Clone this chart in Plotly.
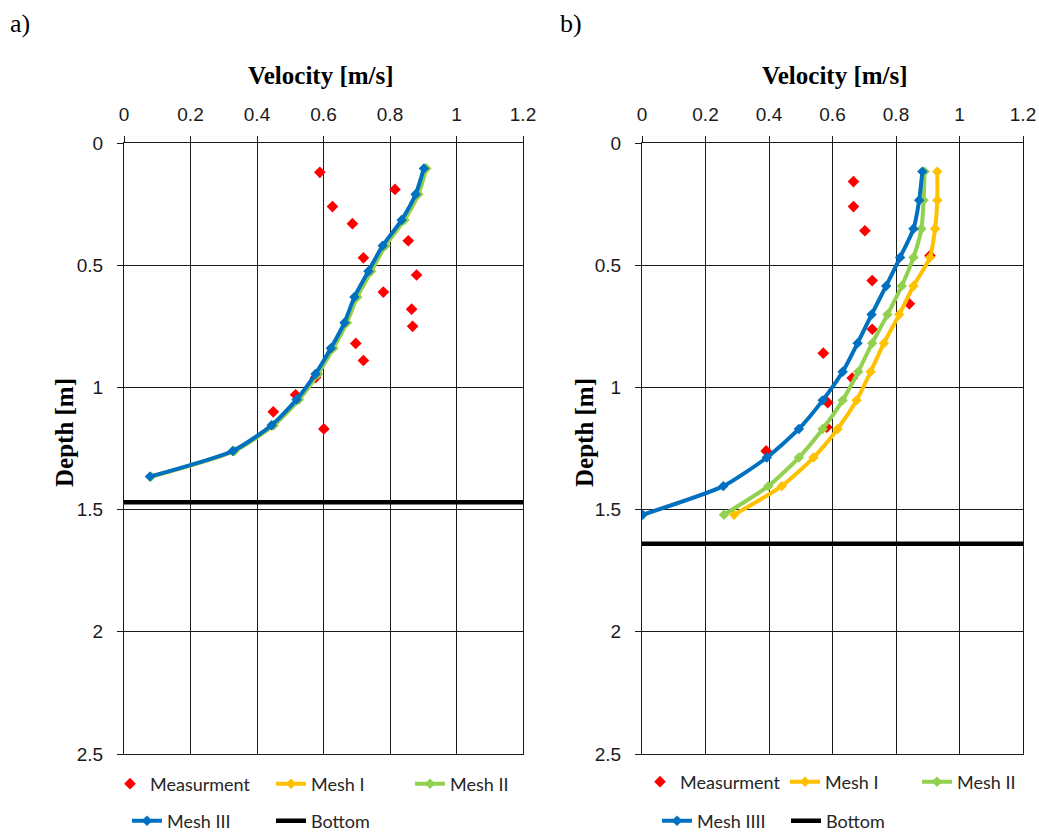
import plotly.graph_objects as go

W, H = 1039, 833

# ---------------- data: panel a ----------------
meas_a_v = [0.589, 0.815, 0.627, 0.687, 0.855, 0.72, 0.88, 0.78, 0.865, 0.868,
            0.697, 0.72, 0.576, 0.516, 0.449, 0.601]
meas_a_d = [0.12, 0.19, 0.26, 0.33, 0.40, 0.47, 0.54, 0.61, 0.68, 0.75,
            0.82, 0.89, 0.96, 1.03, 1.10, 1.17]
mesh_a_d = [0.104, 0.21, 0.315, 0.42, 0.525, 0.63, 0.735, 0.84, 0.945, 1.05,
            1.155, 1.26, 1.365]
mesh1_a_v = [0.909, 0.885, 0.843, 0.786, 0.743, 0.701, 0.670, 0.629, 0.583,
             0.526, 0.450, 0.332, 0.081]
mesh2_a_v = [0.909, 0.885, 0.843, 0.786, 0.743, 0.701, 0.670, 0.629, 0.583,
             0.526, 0.450, 0.332, 0.081]
mesh3_a_v = [0.902, 0.877, 0.835, 0.778, 0.735, 0.693, 0.663, 0.622, 0.576,
             0.519, 0.444, 0.327, 0.078]
bottom_a = 1.47

# ---------------- data: panel b ----------------
meas_b_v = [0.666, 0.666, 0.702, 0.907, 0.725, 0.842, 0.725, 0.571, 0.662,
            0.585, 0.582, 0.391]
meas_b_d = [0.158, 0.26, 0.359, 0.461, 0.563, 0.658, 0.762, 0.86, 0.962,
            1.062, 1.163, 1.26]
mesh_b_d = [0.117, 0.234, 0.351, 0.468, 0.585, 0.702, 0.819, 0.936, 1.053,
            1.17, 1.287, 1.404, 1.521]
mesh1_b_v = [0.93, 0.93, 0.923, 0.907, 0.855, 0.81, 0.762, 0.72, 0.676, 0.616,
             0.54, 0.44, 0.29]
mesh2_b_v = [0.89, 0.887, 0.88, 0.855, 0.818, 0.773, 0.725, 0.681, 0.632,
             0.569, 0.494, 0.398, 0.258]
mesh3_b_v = [0.883, 0.873, 0.855, 0.813, 0.769, 0.723, 0.679, 0.632, 0.569,
             0.494, 0.393, 0.256, 0.002]
bottom_b = 1.64

vel_range = [0, 1.2]
depth_ticks = [0, 0.5, 1, 1.5, 2, 2.5]
vel_ticks = [0, 0.2, 0.4, 0.6, 0.8, 1, 1.2]

RED, YEL, GRN, BLU = "#FF0000", "#FFC000", "#92D050", "#0070C0"

fig = go.Figure()


def add_panel(xa, ya, mv, md, dd, m1, m2, m3, bot, legs, names, widths):
    l1, l2 = legs
    fig.add_trace(go.Scatter(x=mv, y=md, mode="markers", name=names[0],
                             marker=dict(symbol="diamond", size=9, color=RED),
                             xaxis=xa, yaxis=ya, legend=l1, legendwidth=widths[0]))
    for vals, col, nm, lg, w in [(m1, YEL, names[1], l1, widths[1]),
                                 (m2, GRN, names[2], l1, widths[2]),
                                 (m3, BLU, names[3], l2, widths[3])]:
        fig.add_trace(go.Scatter(x=vals, y=dd, mode="lines+markers", name=nm,
                                 line=dict(color=col, width=4, shape="spline", smoothing=0.6),
                                 marker=dict(symbol="diamond", size=8, color=col),
                                 xaxis=xa, yaxis=ya, legend=lg, legendwidth=w))
    fig.add_trace(go.Scatter(x=vel_range, y=[bot, bot], mode="lines", name=names[4],
                             line=dict(color="black", width=4.5),
                             xaxis=xa, yaxis=ya, legend=l2, legendwidth=widths[4]))


add_panel("x", "y", meas_a_v, meas_a_d, mesh_a_d, mesh1_a_v, mesh2_a_v, mesh3_a_v,
          bottom_a, ("legend", "legend2"),
          ["Measurment", "Mesh I", "Mesh II", "Mesh III", "Bottom"],
          [116, 94, 60, 99, 60])
add_panel("x2", "y2", meas_b_v, meas_b_d, mesh_b_d, mesh1_b_v, mesh2_b_v, mesh3_b_v,
          bottom_b, ("legend3", "legend4"),
          ["Measurment", "Mesh I", "Mesh II", "Mesh IIII", "Bottom"],
          [100, 87, 60, 84, 60])

tickfont = dict(family="Liberation Sans, Arial", size=19, color="#1a1a1a")
xcommon = dict(range=vel_range, tickvals=vel_ticks, side="top", showgrid=True,
               gridcolor="#1a1a1a", gridwidth=1, showline=True, mirror=True,
               linecolor="#1a1a1a", linewidth=1, ticks="outside", ticklen=6,
               tickcolor="#1a1a1a", tickfont=tickfont, zeroline=False,
               ticklabelstandoff=7)
ycommon = dict(range=[2.5, 0], tickvals=depth_ticks, showgrid=True,
               gridcolor="#1a1a1a", gridwidth=1, showline=True, mirror=True,
               linecolor="#1a1a1a", linewidth=1, ticks="outside", ticklen=6,
               tickcolor="#1a1a1a", tickfont=tickfont, zeroline=False,
               ticklabelstandoff=10)

ydom = [1 - 754 / H, 1 - 143 / H]
xa_dom = [124 / W, 523 / W]
xb_dom = [642 / W, 1023 / W]

legfont = dict(family="Lato, Open Sans", size=18, color="#262626")


def leg(xpx, ypx):
    return dict(x=xpx / W, y=1 - ypx / H, xanchor="left", yanchor="middle",
                orientation="h", bgcolor="rgba(0,0,0,0)", borderwidth=0,
                font=legfont)


fig.update_layout(
    width=W, height=H, margin=dict(l=0, r=0, t=0, b=0, autoexpand=False),
    paper_bgcolor="white", plot_bgcolor="white",
    xaxis=dict(domain=xa_dom, anchor="y", **xcommon),
    yaxis=dict(domain=ydom, anchor="x", **ycommon),
    xaxis2=dict(domain=xb_dom, anchor="y2", **xcommon),
    yaxis2=dict(domain=ydom, anchor="x2", **ycommon),
    legend=leg(110, 784), legend2=leg(127, 821),
    legend3=leg(640, 782), legend4=leg(657, 821),
)

serif = "Liberation Serif, Times New Roman"
ann = [
    dict(text="a)", x=8 / W, y=1 - 24 / H, xanchor="left", font=dict(family=serif, size=26)),
    dict(text="b)", x=558 / W, y=1 - 24 / H, xanchor="left", font=dict(family=serif, size=26)),
    dict(text="<b>Velocity [m/s]</b>", x=321 / W, y=1 - 76 / H, font=dict(family=serif, size=25)),
    dict(text="<b>Velocity [m/s]</b>", x=835 / W, y=1 - 76 / H, font=dict(family=serif, size=25)),
    dict(text="<b>Depth [m]</b>", x=64 / W, y=1 - 433 / H, textangle=-90, font=dict(family=serif, size=25)),
    dict(text="<b>Depth [m]</b>", x=584 / W, y=1 - 433 / H, textangle=-90, font=dict(family=serif, size=25)),
]
for a in ann:
    a.update(xref="paper", yref="paper", showarrow=False, yanchor="middle")
    a.setdefault("xanchor", "center")
    a["font"]["color"] = "black"
fig.update_layout(annotations=ann)

fig.write_html("out.html")
